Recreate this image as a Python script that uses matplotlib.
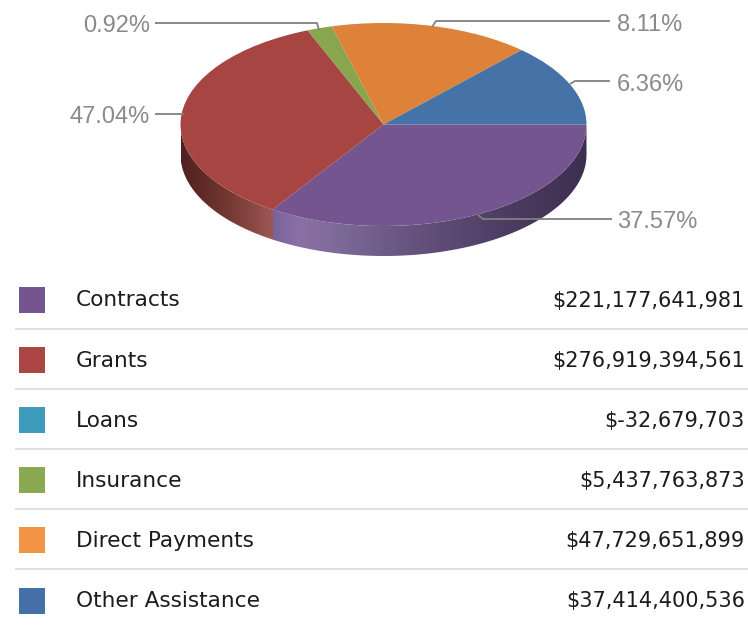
import numpy as np
import matplotlib
matplotlib.use("Agg")
import matplotlib.pyplot as plt
from matplotlib.colors import to_rgb
from matplotlib.patches import Polygon

W, H = 748, 626

# legend table
categories = ["Contracts", "Grants", "Loans", "Insurance", "Direct Payments", "Other Assistance"]
amounts = [221177641981, 276919394561, -32679703, 5437763873, 47729651899, 37414400536]
swatch_colors = ["#75558F", "#AD4545", "#3D9BBD", "#8AA84E", "#F29446", "#4470A6"]

# pie as drawn (its angular shares, clockwise from east)
slice_names = ["Contracts", "Grants", "Insurance", "Direct Payments", "Other Assistance"]
drawn_shares = [34.2, 34.7, 2.0, 16.0, 13.1]
slice_colors = ["#74558F", "#A64541", "#89A54E", "#DD8238", "#4572A7"]

# printed percentages
pct_labels = ["37.57%", "47.04%", "0.92%", "8.11%", "6.36%"]

fig = plt.figure(figsize=(W / 100, H / 100), dpi=100, facecolor="white")
plt.rcParams["font.family"] = ["DejaVu Sans"]

# overlay in pixel coordinates for layout
ov = fig.add_axes([0, 0, 1, 1], zorder=3)
ov.set_xlim(0, W)
ov.set_ylim(H, 0)
ov.axis("off")
ov.patch.set_alpha(0)

# pie
cx, cy, rx, ry, depth = 383.5, 124.5, 203, 101.5, 30
left, right = cx - rx, cx + rx
top, bottom = cy - ry, cy + ry + depth
pax = fig.add_axes([left / W, 1 - bottom / H, (right - left) / W, (bottom - top) / H], zorder=1)
pax.pie(drawn_shares, colors=slice_colors, startangle=0, counterclock=False, radius=1,
        wedgeprops=dict(linewidth=0), frame=False)
d = depth / ry

# side wall: one horizontal gradient per front slice, clipped to the wall outline
edges = np.cumsum([0] + drawn_shares) * 3.6
wall_stops = {
    0: [(0.0, "#3E2E52"), (0.22, "#4A3A5E"), (0.55, "#66527E"), (0.80, "#7E6A98"), (0.92, "#8A70A6"), (1.0, "#786498")],
    1: [(0.0, "#A05A58"), (0.22, "#8C4A46"), (0.50, "#753832"), (0.80, "#5E2A26"), (1.0, "#4E2020")],
}
for i, overlap in ((1, 0.7), (0, 0.0)):
    a0, a1 = edges[i], min(edges[i + 1], 180)
    th = np.radians(np.linspace(a0 - overlap, a1, 200))
    x = np.cos(th)
    yt = -np.sin(th)
    outline = np.column_stack([np.r_[x, x[::-1]], np.r_[yt, yt[::-1] - d]])
    # fraction along the slice's horizontal span
    xa, xb = x[0], x[-1]
    grid = np.linspace(0, 1, 300)
    stops = wall_stops[i]
    ts = [s[0] for s in stops]
    rgb = np.array([to_rgb(s[1]) for s in stops])
    img = np.stack([np.interp(grid, ts, rgb[:, k]) for k in range(3)], axis=-1)[None, :, :]
    im = pax.imshow(img, extent=[xa, xb, -1 - d, 1], aspect="auto", zorder=0, interpolation="bilinear")
    poly = Polygon(outline, closed=True, transform=pax.transData, facecolor="none", edgecolor="none")
    pax.add_patch(poly)
    im.set_clip_path(poly)

pax.set_aspect("auto")
pax.set_xlim(-1, 1)
pax.set_ylim(-1 - d, 1)
pax.axis("off")

# leader lines and labels
leaders = [
    ([478, 483, 612], [215, 219, 219]),
    ([184, 155], [114, 114]),
    ([319, 317, 155], [30, 23, 23]),
    ([432, 436, 610], [27, 21, 21]),
    ([570, 575, 610], [84, 81, 81]),
]
label_pos = [(617, 222, "left"), (150, 117, "right"), (150, 26, "right"), (617, 25, "left"), (617, 85, "left")]
for (xs, ys), (lx, ly, ha), txt in zip(leaders, label_pos, pct_labels):
    ov.plot(xs, ys, color="#808080", lw=1.3, solid_capstyle="butt")
    ov.text(lx, ly, txt, ha=ha, va="center", color="#8A8A8A", fontsize=17, family="Liberation Sans")

# legend table
row_y = 300.5
row_h = 60.1
for i, (name, amt, col) in enumerate(zip(categories, amounts, swatch_colors)):
    y = row_y + i * row_h
    ov.add_patch(plt.Rectangle((19, y - 13.5), 26, 26, facecolor=col, edgecolor="none"))
    ov.text(76, y, name, ha="left", va="center", fontsize=15.6, color="#1C1C1C")
    ov.text(745, y, f"${amt:,}", ha="right", va="center", fontsize=15, color="#1C1C1C")
    if i < len(categories) - 1:
        ov.plot([15, W], [y + 28, y + 28], color="#E0E0E0", lw=1.4, solid_capstyle="butt")

fig.savefig("out.png", dpi=100, facecolor="white")
